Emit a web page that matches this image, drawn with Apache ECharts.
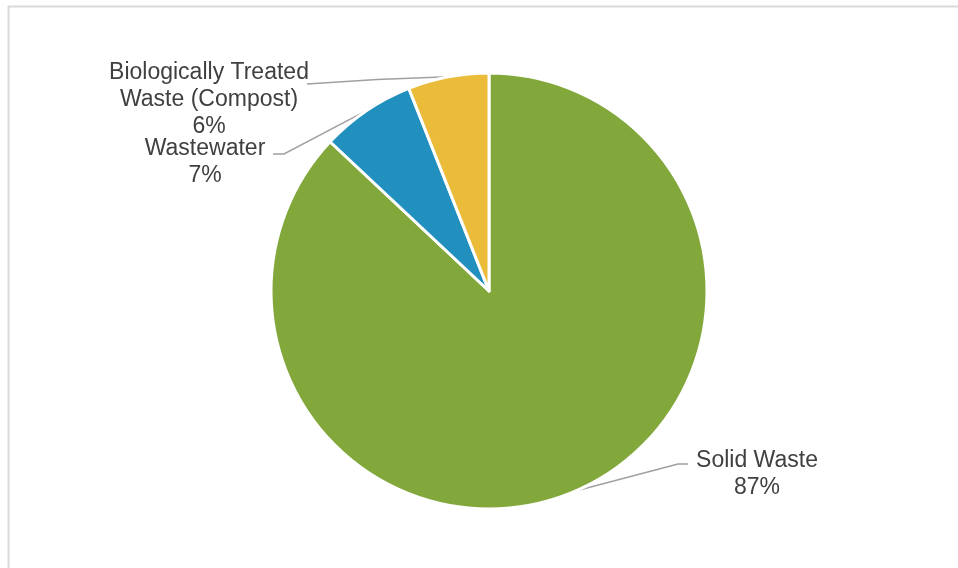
<!DOCTYPE html>
<html>
<head>
<meta charset="utf-8">
<style>
  html, body { margin: 0; padding: 0; background: #ffffff; }
  #chart { width: 958px; height: 568px; }
</style>
<script src="https://cdn.jsdelivr.net/npm/echarts@6/dist/echarts.min.js"></script>
</head>
<body>
<div id="chart"></div>
<script>
// Waste-sector emissions by source (percent of total)
const categories = ['Solid Waste', 'Wastewater', 'Biologically Treated\nWaste (Compost)'];
const shares = [87, 7, 6];
const sliceColors = ['#82A73A', '#2290BF', '#EBBB3A'];

const chart = echarts.init(document.getElementById('chart'), null, { renderer: 'canvas' });

const cx = 489, cy = 291, radius = 218;

// Label anchor positions and leader line bends, per slice
const labelSpots = [
  { x: 757, y: 474, bend: [[678, 464], [688, 464]] },
  { x: 205, y: 162, bend: [[284, 154], [273, 154]] },
  { x: 209, y: 100, bend: [[377, 79.5], [307, 84]] }
];

const total = shares.reduce((a, b) => a + b, 0);

function sliceEdge(idx) {
  let before = 0;
  for (let i = 0; i < idx; i++) before += shares[i];
  const mid = (before + shares[idx] / 2) / total * Math.PI * 2;
  return [cx + radius * Math.sin(mid), cy - radius * Math.cos(mid)];
}

chart.setOption({
  backgroundColor: '#ffffff',
  animation: false,
  graphic: [{
    type: 'rect',
    shape: { x: 8.5, y: 6.5, width: 1000, height: 600 },
    style: { fill: 'none', stroke: '#d9d9d9', lineWidth: 2 },
    silent: true
  }],
  series: [{
    type: 'pie',
    center: [cx, cy],
    radius: radius,
    startAngle: 90,
    clockwise: true,
    data: categories.map((name, i) => ({
      name: name,
      value: shares[i],
      itemStyle: { color: sliceColors[i] }
    })),
    itemStyle: { borderColor: '#ffffff', borderWidth: 3 },
    label: {
      show: true,
      formatter: '{b}\n{c}%',
      color: '#404040',
      fontFamily: 'Liberation Sans, Arial, sans-serif',
      fontSize: 23,
      lineHeight: 27,
      align: 'center'
    },
    labelLine: {
      show: true,
      lineStyle: { color: '#a0a0a0', width: 1.5 }
    },
    labelLayout: function (params) {
      const spot = labelSpots[params.dataIndex];
      const edge = sliceEdge(params.dataIndex);
      return {
        x: spot.x,
        y: spot.y,
        align: 'center',
        verticalAlign: 'middle',
        labelLinePoints: [edge, spot.bend[0], spot.bend[1]]
      };
    },
    emphasis: { disabled: true }
  }]
});
</script>
</body>
</html>
